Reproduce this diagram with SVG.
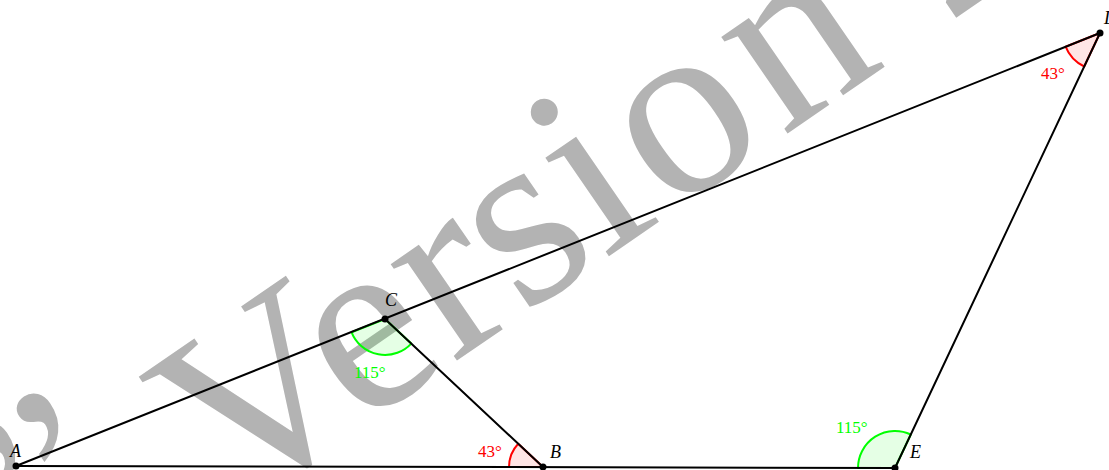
<svg xmlns="http://www.w3.org/2000/svg" width="1109" height="470" viewBox="0 0 1109 470">
<style>
.wm{font-family:"Liberation Serif","DejaVu Serif",serif;font-size:255px;fill:#b3b3b3}
.seg{stroke:#000;stroke-width:2;fill:none;stroke-linecap:round}
.pt{fill:#000}
.lbl{font-family:"Liberation Serif","DejaVu Serif",serif;font-style:italic;font-size:18px;fill:#000}
.red{fill:#ff0000;fill-opacity:0.1;stroke:#ff0000;stroke-width:2;stroke-linejoin:round}
.grn{fill:#00ff00;fill-opacity:0.1;stroke:#00ff00;stroke-width:2;stroke-linejoin:round}
.rt{font-family:"Liberation Serif","DejaVu Serif",serif;font-size:17px;fill:#ff0000}
.gt{font-family:"Liberation Serif","DejaVu Serif",serif;font-size:17px;fill:#00ff00}
</style>
<rect width="1109" height="470" fill="#fff"/>
<g id="watermark">
<text class="wm" transform="translate(231,516) rotate(-34.5)" x="-73" y="-46" text-anchor="end">”</text>
<text class="wm" transform="translate(231,516) rotate(-34.5)" x="0" y="0">Versi<tspan dx="8">o</tspan><tspan dx="10">n</tspan><tspan dx="8"> 2</tspan></text>
</g>
<g id="angles">
<g id="angle-B"><path class="red" d="M543,467 L509,466.9 A34,34 0 0,1 518.2,443.8 Z"/><text class="rt" x="478" y="457">43°</text></g>
<g id="angle-C"><path class="grn" d="M385,319 L411.3,343.6 A36,36 0 0,1 351.6,332.3 Z"/><text class="gt" x="354" y="378">115°</text></g>
<g id="angle-E"><path class="grn" d="M895,468 L858,467.9 A37,37 0 0,1 910.8,434.5 Z"/><text class="gt" x="836" y="433">115°</text></g>
<g id="angle-D"><path class="red" d="M1100,33 L1084.2,66.5 A37,37 0 0,1 1065.6,46.7 Z"/><text class="rt" x="1041" y="79">43°</text></g>
</g>
<g id="connectors">
<line class="seg" x1="16" y1="466" x2="1100" y2="33"/>
<line class="seg" x1="16" y1="466" x2="895" y2="468"/>
<line class="seg" x1="385" y1="319" x2="543" y2="467"/>
<line class="seg" x1="1100" y1="33" x2="895" y2="468"/>
</g>
<g id="node-A"><circle class="pt" cx="16" cy="466" r="3.5"/><text class="lbl" x="10" y="457">A</text></g>
<g id="node-B"><circle class="pt" cx="543" cy="467" r="3.5"/><text class="lbl" x="550" y="458">B</text></g>
<g id="node-C"><circle class="pt" cx="385" cy="319" r="3.5"/><text class="lbl" x="385" y="306">C</text></g>
<g id="node-D"><circle class="pt" cx="1100" cy="33" r="3.5"/><text class="lbl" x="1104" y="24">D</text></g>
<g id="node-E"><circle class="pt" cx="895" cy="468" r="3.5"/><text class="lbl" x="910" y="458">E</text></g>
</svg>
